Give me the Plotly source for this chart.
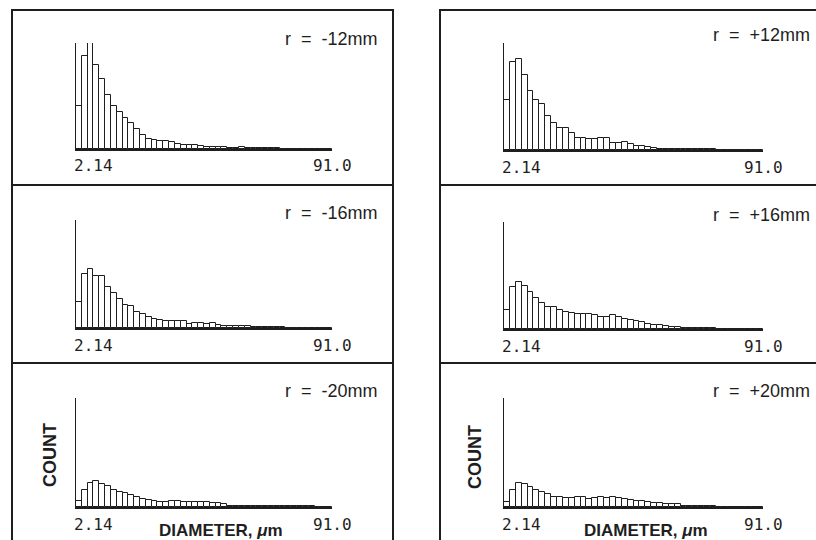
import numpy as np
import plotly.graph_objects as go

# ---------------- data ----------------
tick_values = [2.14, 91.0]
tick_labels = ["2.14", "91.0"]
n_bins = 44

panel_labels = ["r  =  -12mm", "r  =  +12mm", "r  =  -16mm",
                "r  =  +16mm", "r  =  -20mm", "r  =  +20mm"]

counts_m12 = [43, 93, 106, 84, 70, 54, 43, 37, 31, 26, 20, 14, 10, 9, 8, 8, 7, 5, 4, 4, 4, 3,
              2, 2, 2, 2, 1, 1, 2, 1, 1, 1, 1, 1, 1, 0, 0, 0, 0, 0, 0, 0, 0, 0]
counts_p12 = [50, 87, 90, 74, 58, 50, 46, 34, 27, 22, 22, 17, 12, 12, 11, 11, 12, 12, 7, 7, 8, 6,
              4, 4, 3, 2, 1, 1, 1, 1, 1, 1, 1, 1, 1, 1, 0, 0, 0, 0, 0, 0, 0, 0]
counts_m16 = [26, 53, 58, 51, 51, 40, 34, 28, 23, 22, 16, 14, 11, 9, 8, 7, 7, 7, 7, 4, 5, 5,
              4, 5, 3, 2, 2, 2, 2, 2, 1, 1, 1, 1, 1, 1, 0, 0, 0, 0, 0, 0, 0, 0]
counts_p16 = [19, 42, 47, 43, 37, 31, 26, 22, 22, 19, 17, 16, 15, 15, 15, 14, 12, 12, 14, 12, 10, 9,
              8, 7, 5, 4, 4, 3, 2, 2, 1, 1, 1, 1, 1, 1, 0, 0, 0, 0, 0, 0, 0, 0]
counts_m20 = [6, 17, 23, 25, 22, 20, 17, 15, 14, 12, 10, 8, 7, 6, 5, 5, 6, 6, 5, 5, 5, 5,
              5, 4, 4, 3, 1, 1, 1, 1, 1, 1, 1, 1, 1, 1, 1, 1, 1, 1, 1, 0, 0, 0]
counts_p20 = [5, 17, 23, 22, 19, 17, 15, 13, 10, 10, 9, 9, 10, 10, 8, 9, 10, 9, 10, 9, 8, 7,
              6, 6, 5, 4, 4, 3, 3, 3, 1, 1, 1, 1, 1, 1, 0, 0, 0, 0, 0, 0, 0, 0]

x_title = "DIAMETER, <i>μ</i>m"
y_title = "COUNT"

# ---------------- layout helpers ----------------
W, H = 816, 540
def px_x(x):
    return x / W
def px_y(y):
    return 1 - y / H

INK = "#1e1e1e"

# (x_left, x_right, y_top, y_base) in pixels for each panel
panel_boxes = [
    (76, 332, 43, 149), (504, 763, 43, 150),
    (76, 332, 220, 328), (504, 763, 222, 329),
    (76, 332, 398, 507), (504, 763, 398, 507),
]
label_pos = [(283, 39), (711, 35), (283, 213), (711, 215), (283, 391), (711, 391)]

all_counts = [counts_m12, counts_p12, counts_m16, counts_p16, counts_m20, counts_p20]

edges = np.linspace(tick_values[0], tick_values[1], n_bins + 1)
centers = (edges[:-1] + edges[1:]) / 2
bw = edges[1] - edges[0]

fig = go.Figure()
annotations = []
for i, (counts, box) in enumerate(zip(all_counts, panel_boxes)):
    k = "" if i == 0 else str(i + 1)
    fig.add_trace(go.Bar(
        x=centers, y=counts, width=bw,
        marker=dict(color="white", line=dict(color=INK, width=1)),
        xaxis="x" + k, yaxis="y" + k, showlegend=False, hoverinfo="skip"))
    x0, x1, yt, yb = box
    fig.layout["xaxis" + k] = dict(
        domain=[px_x(x0), px_x(x1)], anchor="y" + k,
        range=[tick_values[0], tick_values[1]], showline=True, linecolor=INK, linewidth=2,
        showgrid=False, zeroline=False, showticklabels=False, ticks="", fixedrange=True)
    fig.layout["yaxis" + k] = dict(
        domain=[px_y(yb), px_y(yt)], anchor="x" + k,
        range=[0, 106], showline=True, linecolor=INK, linewidth=1.2,
        showgrid=False, zeroline=False, showticklabels=False, ticks="", fixedrange=True)
    # tick labels at the axis ends
    ly = yb + 17
    annotations.append(dict(x=tick_values[0], xref="x" + k, y=px_y(ly), yref="paper",
                            text=tick_labels[0], showarrow=False, xanchor="left", xshift=-4,
                            yanchor="middle",
                            font=dict(family="DejaVu Sans Mono", size=16, color=INK)))
    annotations.append(dict(x=tick_values[1], xref="x" + k, y=px_y(ly), yref="paper",
                            text=tick_labels[1], showarrow=False, xanchor="center",
                            yanchor="middle",
                            font=dict(family="DejaVu Sans Mono", size=16, color=INK)))
    lx, lyy = label_pos[i]
    annotations.append(dict(x=px_x(lx), xref="paper", y=px_y(lyy), yref="paper",
                            text=panel_labels[i], showarrow=False, xanchor="left",
                            yanchor="middle",
                            font=dict(family="Liberation Sans", size=18, color=INK)))

# axis titles for bottom panels
for cx, cy_count, tx in [(50, 455, 221), (475, 457, 646)]:
    annotations.append(dict(x=px_x(cx), xref="paper", y=px_y(cy_count), yref="paper",
                            text="<b>" + y_title + "</b>", textangle=-90, showarrow=False,
                            xanchor="center", yanchor="middle",
                            font=dict(family="Liberation Sans", size=18, color=INK)))
    annotations.append(dict(x=px_x(tx), xref="paper", y=px_y(530), yref="paper",
                            text="<b>" + x_title + "</b>", showarrow=False,
                            xanchor="center", yanchor="middle",
                            font=dict(family="Liberation Sans", size=17, color=INK)))

# panel frames
shapes = []
for (bx0, bx1) in [(12, 393), (440, 840)]:
    shapes.append(dict(type="rect", xref="paper", yref="paper",
                       x0=px_x(bx0), x1=px_x(bx1), y0=px_y(560), y1=px_y(10),
                       line=dict(color=INK, width=2)))
    for yy in (185, 363):
        shapes.append(dict(type="line", xref="paper", yref="paper",
                           x0=px_x(bx0), x1=px_x(bx1), y0=px_y(yy), y1=px_y(yy),
                           line=dict(color=INK, width=2)))

fig.update_layout(
    width=W, height=H, margin=dict(l=0, r=0, t=0, b=0),
    paper_bgcolor="white", plot_bgcolor="white",
    bargap=0, annotations=annotations, shapes=shapes, showlegend=False)

fig.write_html("out.html", config={"displayModeBar": False},
               post_script="document.body.style.margin='0';document.body.style.overflow='hidden';")
